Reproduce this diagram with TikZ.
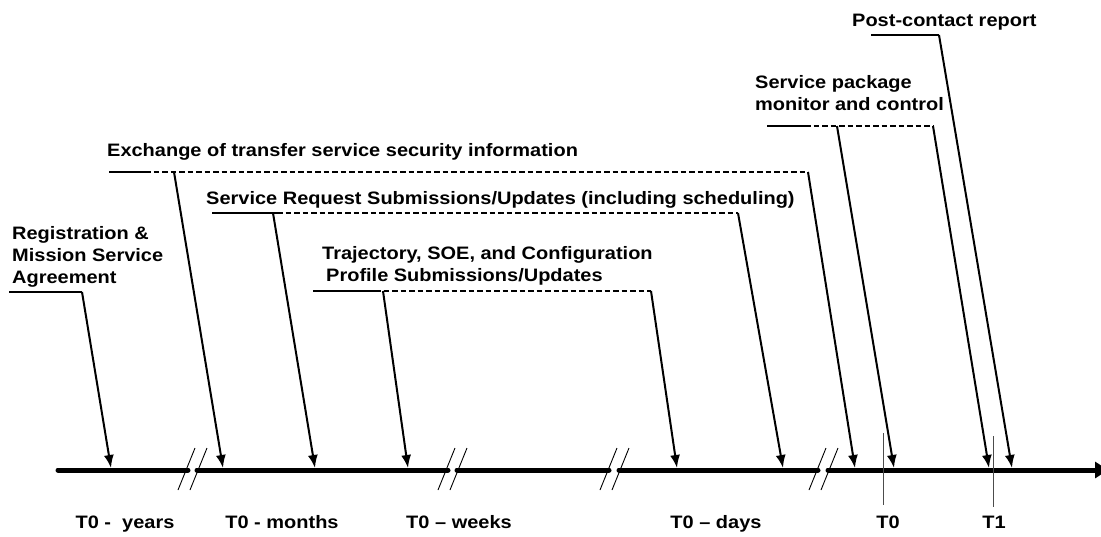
\documentclass[tikz,border=0pt]{standalone}
\usepackage{fontspec}
\setmainfont{Liberation Sans}[FakeStretch=1.11]
\usetikzlibrary{arrows.meta}

\begin{document}
\begin{tikzpicture}[x=1pt,y=-1pt,
  lbl/.style={font=\fontsize{18}{22}\selectfont\bfseries, inner sep=0pt, align=left},
  tick/.style={font=\fontsize{18}{22}\selectfont\bfseries, inner sep=0pt, anchor=base},
  solidrule/.style={line width=1.4pt},
  dashrule/.style={line width=1.4pt, dash pattern=on 5.5pt off 3pt},
  pointer/.style={line width=2pt, -{Latex[length=13pt,width=10pt]}},
  axisseg/.style={line width=5pt, line cap=round},
  brk/.style={line width=0.9pt},
  marker/.style={line width=1pt, black!70}]
\useasboundingbox (0,0) rectangle (1101,536);

% time axis, broken into segments
\draw[axisseg] (58,470) -- (188,470);
\draw[axisseg] (197,470) -- (448,470);
\draw[axisseg] (457,470) -- (609,470);
\draw[axisseg] (619,470) -- (818,470);
\draw[axisseg, -{Triangle[length=13pt,width=16pt]}] (828,470) -- (1108,470);

% break marks
\draw[brk] (178,490) -- (195,448);  \draw[brk] (190,490) -- (207,448);
\draw[brk] (438,490) -- (455,448);  \draw[brk] (450,490) -- (467,448);
\draw[brk] (600,490) -- (617,448);  \draw[brk] (612,490) -- (629,448);
\draw[brk] (809,490) -- (826,448);  \draw[brk] (821,490) -- (838,448);

% T0 and T1 markers
\draw[marker] (883,433) -- (883,505);
\draw[marker] (993,436) -- (993,507);

% axis labels
\node[tick] (lyears)  at (125,528) {T0 -\ \ years};
\node[tick] (lmonths) at (282,528) {T0 - months};
\node[tick] (lweeks)  at (459,528) {T0 – weeks};
\node[tick] (ldays)   at (716,528) {T0 – days};
\node[tick] (lt0)     at (888,528) {T0};
\node[tick] (lt1)     at (994,528) {T1};

% points on the axis
\coordinate (p1) at (111,468);
\coordinate (p2) at (223,468);
\coordinate (p3) at (315,468);
\coordinate (p4) at (408,468);
\coordinate (p5) at (677,468);
\coordinate (p6) at (783,468);
\coordinate (p7) at (855,468);
\coordinate (p8) at (894,468);
\coordinate (p9) at (989,468);
\coordinate (p10) at (1012,468);

% Registration
\node[lbl, anchor=north west] (reg) at (12,226) {Registration \&\\Mission Service\\Agreement};
\coordinate (reg-a) at (9,292);
\coordinate (reg-b) at (82,292);
\draw[solidrule] (reg-a) -- (reg-b);
\draw[pointer] (reg-b) -- (p1);

% Security information exchange
\node[lbl, anchor=base west] (xch) at (107,156) {Exchange of transfer service security information};
\coordinate (xch-a) at (109,172);
\coordinate (xch-s) at (145,172);
\coordinate (xch-p) at (174,172);
\coordinate (xch-b) at (808,172);
\draw[solidrule] (xch-a) -- (xch-s);
\draw[dashrule] (xch-s) -- (xch-b);
\draw[pointer] (xch-p) -- (p2);
\draw[pointer] (xch-b) -- (p7);

% Service requests
\node[lbl, anchor=base west] (sreq) at (206,204) {Service Request Submissions/Updates (including scheduling)};
\coordinate (sreq-a) at (212,213);
\coordinate (sreq-s) at (277,213);
\coordinate (sreq-p) at (273,213);
\coordinate (sreq-b) at (738,213);
\draw[solidrule] (sreq-a) -- (sreq-s);
\draw[dashrule] (sreq-s) -- (sreq-b);
\draw[pointer] (sreq-p) -- (p3);
\draw[pointer] (sreq-b) -- (p6);

% Trajectory / SOE / configuration profiles
\node[lbl, anchor=north west] (traj) at (322,246) {Trajectory, SOE, and Configuration\\\hspace{4pt}Profile Submissions/Updates};
\coordinate (traj-a) at (313,291);
\coordinate (traj-s) at (375,291);
\coordinate (traj-p) at (383,291);
\coordinate (traj-b) at (651,291);
\draw[solidrule] (traj-a) -- (traj-s);
\draw[dashrule] (traj-s) -- (traj-b);
\draw[pointer] (traj-p) -- (p4);
\draw[pointer] (traj-b) -- (p5);

% Service package monitor and control
\node[lbl, anchor=north west] (spkg) at (755,75.4) {Service package\\monitor and control};
\coordinate (spkg-a) at (767,126);
\coordinate (spkg-s) at (805,126);
\coordinate (spkg-p) at (837,126);
\coordinate (spkg-b) at (933,126);
\draw[solidrule] (spkg-a) -- (spkg-s);
\draw[dashrule] (spkg-s) -- (spkg-b);
\draw[pointer] (spkg-p) -- (p8);
\draw[pointer] (spkg-b) -- (p9);

% Post-contact report
\node[lbl, anchor=base west] (post) at (852,26) {Post-contact report};
\coordinate (post-a) at (871,35);
\coordinate (post-b) at (939,35);
\draw[solidrule] (post-a) -- (post-b);
\draw[pointer] (post-b) -- (p10);
\end{tikzpicture}
\end{document}
